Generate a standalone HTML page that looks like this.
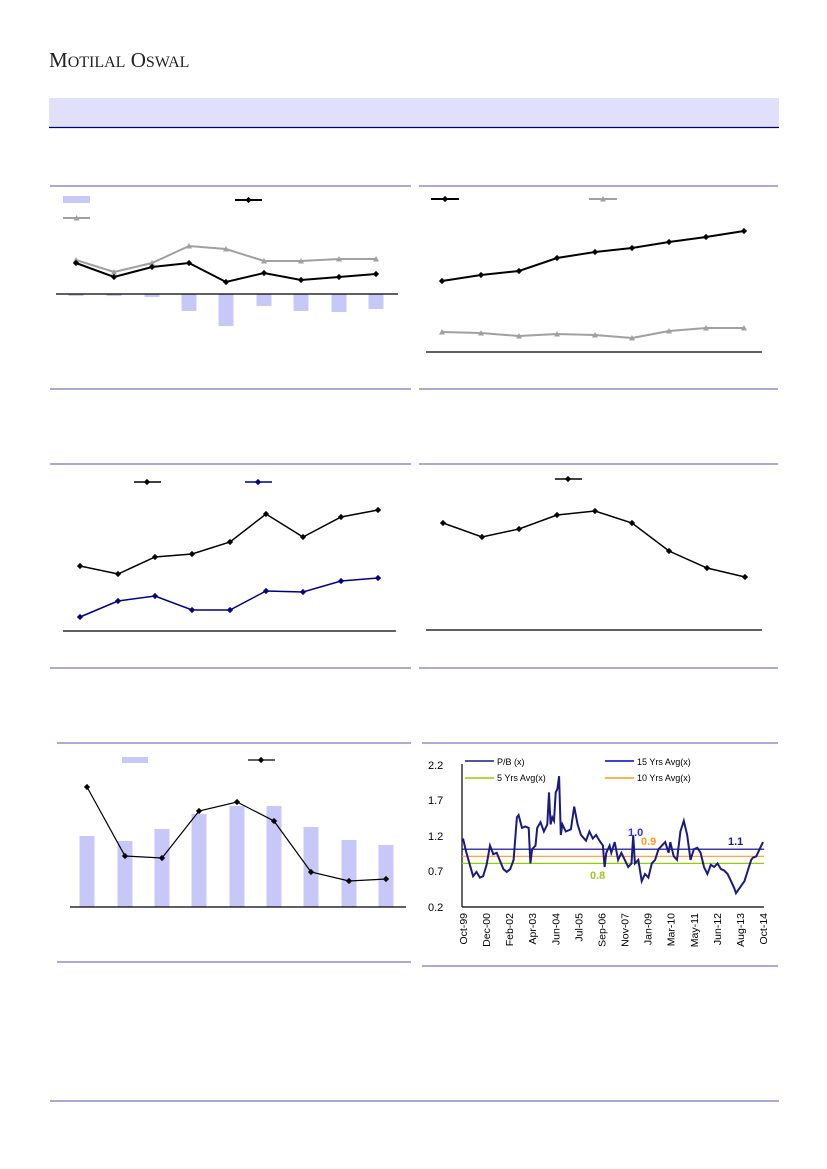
<!DOCTYPE html><html><head><meta charset="utf-8"><style>body{margin:0;background:#fff}svg{display:block}text{font-family:"Liberation Sans",sans-serif}</style></head><body>
<svg id="s" width="827" height="1169" xmlns="http://www.w3.org/2000/svg">
<text x="49" y="67" style="font-family:'Liberation Serif',serif" font-size="21" fill="#222">M<tspan font-size="16">OTILAL</tspan> O<tspan font-size="16">SWAL</tspan></text>
<rect x="49" y="98" width="730" height="29" fill="#e0e0fb"/>
<line x1="49" y1="127.5" x2="779" y2="127.5" stroke="#000070" stroke-width="1.2"/>
<g stroke="#8e8ec8" stroke-width="1.5">
<line x1="50" y1="186" x2="411" y2="186"/><line x1="419" y1="186" x2="778" y2="186"/>
<line x1="50" y1="389" x2="411" y2="389"/><line x1="419" y1="389" x2="778" y2="389"/>
<line x1="50" y1="464" x2="411" y2="464"/><line x1="419" y1="464" x2="778" y2="464"/>
<line x1="50" y1="668" x2="411" y2="668"/><line x1="419" y1="668" x2="778" y2="668"/>
<line x1="57" y1="743" x2="411" y2="743"/><line x1="422" y1="743" x2="778" y2="743"/>
<line x1="57" y1="962" x2="411" y2="962"/><line x1="422" y1="966" x2="778" y2="966"/>
<line x1="50" y1="1101" x2="779" y2="1101"/>
</g>
<g id="g"></g>
<g font-size="11" fill="#000">
<text x="428" y="769">2.2</text><text x="428" y="804">1.7</text><text x="428" y="840">1.2</text><text x="428" y="875">0.7</text><text x="428" y="911">0.2</text>
<text x="497" y="765" font-size="9">P/B (x)</text><text x="637" y="765" font-size="9">15 Yrs Avg(x)</text>
<text x="497" y="781" font-size="9">5 Yrs Avg(x)</text><text x="637" y="781" font-size="9">10 Yrs Avg(x)</text>
<text x="628" y="836" font-weight="bold" fill="#3030f0">1.0</text>
<text x="641" y="845" font-weight="bold" fill="#ff9a20">0.9</text>
<text x="590" y="879" font-weight="bold" fill="#99cc22">0.8</text>
<text x="728" y="845" font-weight="bold" fill="#202080">1.1</text>
</g>
</svg>
<script>
const g=document.getElementById('g');let h='';
const L=(p,c,w,m)=>{h+=`<polyline points="${p.map(a=>a.join(',')).join(' ')}" fill="none" stroke="${c}" stroke-width="${w}"/>`;
 if(m=='d')p.forEach(([x,y])=>h+=`<rect x="${x-2.2}" y="${y-2.2}" width="4.4" height="4.4" fill="${c}" transform="rotate(45 ${x} ${y})"/>`);
 if(m=='t')p.forEach(([x,y])=>h+=`<polygon points="${x},${y-3} ${x-3},${y+2.5} ${x+3},${y+2.5}" fill="${c}"/>`);};
const ln=(a,b,c,d,col,w)=>h+=`<line x1="${a}" y1="${b}" x2="${c}" y2="${d}" stroke="${col||'#000'}" stroke-width="${w||1}"/>`;
const bar='#c8c8f8';
[76,114,152,189,226,264,301,339,376].forEach((x,i)=>{const v=[2,2,3,17,32,12,17,18,15][i];h+=`<rect x="${x-7.5}" y="294" width="15" height="${v}" fill="${bar}"/>`});
ln(56,294,398,294,'#000',1.3);
L([[76,260],[114,272],[152,263],[189,246],[226,249],[264,261],[301,261],[339,259],[376,259]],'#a0a0a0',2,'t');
L([[76,263],[114,277],[152,267],[189,263],[226,282],[264,273],[301,280],[339,277],[376,274]],'#000',2,'d');
h+=`<rect x="63" y="196" width="27" height="7" fill="${bar}"/>`;L([[235,200],[262,200]],'#000',2);L([[248.5,200]],'#000',1,'d');
L([[63,218],[90,218]],'#a0a0a0',2);L([[76.5,218]],'#a0a0a0',1,'t');
ln(426,352,762,352,'#000',1.3);
L([[442,281],[481,275],[519,271],[557,258],[595,252],[632,248],[669,242],[706,237],[744,231]],'#000',2,'d');
L([[442,332],[481,333],[519,336],[557,334],[595,335],[632,338],[669,331],[706,328],[744,328]],'#a0a0a0',2,'t');
L([[431,199],[459,199]],'#000',2);L([[445,199]],'#000',1,'d');L([[589,199],[617,199]],'#a0a0a0',2);L([[603,199]],'#a0a0a0',1,'t');
ln(63,631,396,631,'#000',1.3);
L([[80,566],[118,574],[155,557],[192,554],[230,542],[266,514],[303,537],[341,517],[378,510]],'#000',1.5,'d');
L([[80,617],[118,601],[155,596],[192,610],[230,610],[266,591],[303,592],[341,581],[378,578]],'#000080',1.5,'d');
L([[134,482],[161,482]],'#000',1.5);L([[147,482]],'#000',1,'d');L([[245,482],[272,482]],'#000080',1.5);L([[258,482]],'#000080',1,'d');
ln(426,630,762,630,'#000',1.3);
L([[443,523],[482,537],[519,529],[557,515],[595,511],[632,523],[669,551],[707,568],[745,577]],'#000',1.5,'d');
L([[555,479],[582,479]],'#000',1.5);L([[568,479]],'#000',1,'d');
[87,125,162,199,237,274,311,349,386].forEach((x,i)=>{const t=[836,841,829,814,806,806,827,840,845][i];h+=`<rect x="${x-7.5}" y="${t}" width="15" height="${907-t}" fill="${bar}"/>`});
ln(70,907,406,907,'#000',1.3);
L([[87,787],[125,856],[162,858],[199,811],[237,802],[274,821],[311,872],[349,881],[386,879]],'#000',1.2,'d');
h+=`<rect x="122" y="757" width="26" height="6" fill="${bar}"/>`;L([[248,760],[275,760]],'#000',1.2);L([[261,760]],'#000',1,'d');
ln(462,764,462,907,'#000',1.2);ln(462,907,764,907,'#000',1.2);
const Y=v=>906-(v-0.2)*71;
ln(462,Y(1.0),764,Y(1.0),'#000080',1.2);ln(462,Y(0.9),764,Y(0.9),'#ff9a20',1.2);ln(462,Y(0.8),764,Y(0.8),'#99cc00',1.2);
const K=[[0,1.15],[2,.95],[6,.62],[8,.68],[10,.6],[12,.62],[14,.78],[16,1.05],[18,.93],[20,.95],[24,.72],[26,.68],[28,.72],[30,.85],[32,1.45],[33,1.48],[35,1.3],[37,1.32],[39,1.3],[40,.8],[41,1.0],[43,1.05],[44,1.3],[46,1.38],[48,1.25],[50,1.35],[51,1.8],[52,1.35],[53,1.45],[54,1.4],[55,1.8],[56,1.85],[57,2.03],[58,1.2],[59,1.35],[61,1.25],[64,1.28],[66,1.6],[68,1.35],[70,1.2],[73,1.12],[75,1.25],[77,1.15],[79,1.2],[81,1.12],[83,1.05],[84,.75],[85,.95],[87,1.05],[88,.95],[90,1.1],[92,.85],[94,.95],[96,.85],[98,.75],[100,.8],[101,1.2],[102,.8],[104,.85],[105,.7],[106,.55],[108,.65],[110,.6],[112,.8],[114,.85],[116,1.0],[118,1.05],[120,1.1],[122,.95],[123,1.1],[125,.9],[127,.85],[129,1.25],[131,1.4],[133,1.2],[135,.85],[137,1.0],[139,1.02],[141,.95],[143,.75],[145,.65],[147,.78],[149,.75],[151,.8],[153,.72],[155,.7],[157,.65],[159,.55],[161,.45],[162,.38],[164,.45],[167,.55],[169,.7],[171,.85],[172,.88],[174,.9],[176,1.0],[178,1.1]];
L(K.map(([m,v])=>[(463+m/178*300).toFixed(1),Y(v).toFixed(1)]),'#1a1a80',2);
L([[465,761],[494,761]],'#1a1a80',1.5);L([[605,761],[634,761]],'#0000c0',1.5);L([[465,778],[494,778]],'#99cc00',1.5);L([[605,778],[634,778]],'#ff9a20',1.5);
['Oct-99','Dec-00','Feb-02','Apr-03','Jun-04','Jul-05','Sep-06','Nov-07','Jan-09','Mar-10','May-11','Jun-12','Aug-13','Oct-14'].forEach((t,i)=>{const x=467+i*23.08;h+=`<text transform="translate(${x},913) rotate(-90)" text-anchor="end" font-size="10.5">${t}</text>`});
g.innerHTML=h;
</script>
</body></html>
